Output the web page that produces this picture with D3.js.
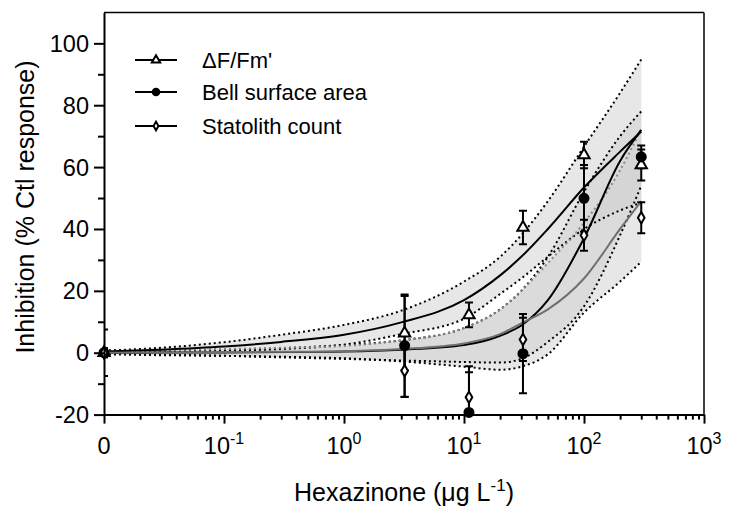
<!DOCTYPE html>
<meta charset="utf-8">
<style>
body { margin: 0; background: #fff; }
text { font-family: "Liberation Sans", Arial, sans-serif; fill: #000; }
</style>
<script src="https://d3js.org/d3.v7.min.js"></script>
<svg width="729" height="511"></svg>
<script>
const svg = d3.select('svg');

// concentrations (control "0" sits at the 0.01 position of the log axis)
const conc = [0.01, 3.2, 11, 31, 100, 300];
const fvfmMean = [0, 6.3, 12.2, 40.5, 63.9, 60.7];
const fvfmErr  = [1.5, 12, 4, 5.4, 4.3, 5];
const bellMean = [0, 2.3, -19.3, -0.3, 49.9, 63.3];
const bellErr  = [7.5, 16.5, 13, 12.8, 10.8, 3.7];
const statMean = [0, -5.8, -14.4, 4.3, 38, 43.6];
const statErr  = [1.5, 8.5, 10, 7, 5, 5];

// fitted curves and 95% bands
const fitX      = [0.01, 0.03, 0.1, 0.3, 1, 3, 10, 20, 30, 50, 100, 200, 300];
const fvfmFit   = [0.4, 1.0, 2.0, 3.5, 5.8, 9.8, 17, 25, 31, 40, 53.4, 65, 71.5];
const fvfmUp    = [0.7, 1.6, 3.4, 5.8, 9, 13.6, 23, 31, 38, 49, 66.6, 84, 94.8];
const fvfmLo    = [0.1, 0.4, 0.6, 1.2, 2.6, 6, 11, 19, 24, 31, 40, 46, 48.5];
const bellFit   = [0, 0.05, 0.1, 0.2, 0.4, 1.0, 2.5, 5.5, 8.8, 17, 37, 62, 72];
const bellUp    = [0.3, 0.6, 1, 1.5, 2.5, 4, 8, 14, 20, 31, 52, 70, 78];
const bellLo    = [-0.3, -0.6, -1, -1.5, -2, -2.5, -3, -3.2, -2, 3.5, 15, 38, 54];
const statFit   = [0, 0.1, 0.2, 0.3, 0.5, 1.2, 3, 6, 9.5, 14, 24, 40, 49];
const statUp    = [0.5, 0.8, 1.2, 1.6, 2.2, 4, 8, 14, 20, 29, 42, 59, 72.5];
const statLo    = [-0.5, -0.8, -1, -1.3, -1.8, -2.8, -4.5, -5.5, -4.5, -0.5, 13, 23, 29.4];

const xMajor = [0.01, 0.1, 1, 10, 100, 1000];
const xMajorLabels = [['0', ''], ['10', '-1'], ['10', '0'], ['10', '1'], ['10', '2'], ['10', '3']];
const yMajor = [-20, 0, 20, 40, 60, 80, 100];
const yMinor = [-10, 10, 30, 50, 70, 90];
const legendLabels = ["\u0394F/Fm'", 'Bell surface area', 'Statolith count'];

const x = d3.scaleLog().domain([0.01, 1000]).range([104, 704]);
const y = d3.scaleLinear().domain([-20, 110]).range([414.6, 12.4]);

const xMinor = [];
for (let e = -2; e < 3; e++) for (let k = 2; k <= 9; k++) xMinor.push(k * Math.pow(10, e));

svg.append('defs').append('clipPath').attr('id', 'plot')
  .append('rect').attr('x', 104).attr('y', 12.4).attr('width', 600).attr('height', 402.2);

const g = svg.append('g');

// bands
const bands = [
  { lo: fvfmLo, up: fvfmUp, dotLo: '#000', dotUp: '#000' },
  { lo: bellLo, up: bellUp, dotLo: '#000', dotUp: '#000' },
  { lo: statLo, up: statUp, dotLo: '#000', dotUp: '#888' }
];
const area = d3.area().x(d => x(d[0])).y0(d => y(d[1])).y1(d => y(d[2])).curve(d3.curveMonotoneX);
const line = d3.line().x(d => x(d[0])).y(d => y(d[1])).curve(d3.curveMonotoneX);

bands.forEach(b => {
  g.append('path')
    .attr('d', area(fitX.map((v, i) => [v, b.lo[i], b.up[i]])))
    .attr('fill', '#d0d0d0').attr('fill-opacity', 0.5);
});
bands.forEach(b => {
  [[b.lo, b.dotLo], [b.up, b.dotUp]].forEach(([arr, col]) => {
    g.append('path')
      .attr('d', line(fitX.map((v, i) => [v, arr[i]])))
      .attr('fill', 'none').attr('stroke', col).attr('stroke-width', 2)
      .attr('stroke-dasharray', '2,3');
  });
});

// fitted curves
[[fvfmFit, '#000'], [bellFit, '#000'], [statFit, '#707070']].forEach(([arr, col]) => {
  g.append('path')
    .attr('d', line(fitX.map((v, i) => [v, arr[i]])))
    .attr('fill', 'none').attr('stroke', col).attr('stroke-width', 2);
});

// error bars and markers
const series = [
  { mean: fvfmMean, err: fvfmErr, sym: d3.symbolTriangle, size: 55, fill: '#fff' },
  { mean: bellMean, err: bellErr, sym: d3.symbolCircle, size: 64, fill: '#000' },
  { mean: statMean, err: statErr, sym: d3.symbolDiamond, size: 38, fill: '#fff' }
];

const eb = g.append('g').attr('clip-path', 'url(#plot)');
series.forEach(s => {
  conc.forEach((c, i) => {
    const cx = x(c), top = y(s.mean[i] + s.err[i]), bot = y(s.mean[i] - s.err[i]);
    eb.append('line').attr('x1', cx).attr('x2', cx).attr('y1', top).attr('y2', bot)
      .attr('stroke', '#000').attr('stroke-width', 2);
    [top, bot].forEach(yy => eb.append('line')
      .attr('x1', cx - 4).attr('x2', cx + 4).attr('y1', yy).attr('y2', yy)
      .attr('stroke', '#000').attr('stroke-width', 2));
  });
});
series.forEach(s => {
  conc.forEach((c, i) => {
    g.append('path')
      .attr('d', d3.symbol(s.sym, s.size)())
      .attr('transform', `translate(${x(c)},${y(s.mean[i])})`)
      .attr('fill', s.fill).attr('stroke', '#000').attr('stroke-width', 2);
  });
});

// frame
svg.append('line').attr('x1', 104).attr('x2', 704).attr('y1', 12.4).attr('y2', 12.4)
  .attr('stroke', '#000').attr('stroke-width', 1.5);
svg.append('line').attr('x1', 704).attr('x2', 704).attr('y1', 12.4).attr('y2', 414.6)
  .attr('stroke', '#000').attr('stroke-width', 1.5);

// axes
const xAxis = svg.append('g').attr('transform', 'translate(0,414.6)');
xAxis.call(d3.axisBottom(x).tickValues(xMajor).tickSize(9).tickSizeOuter(0).tickFormat(''));
xAxis.append('g').call(d3.axisBottom(x).tickValues(xMinor).tickSize(5).tickSizeOuter(0).tickFormat(''))
  .select('.domain').remove();
const yAxis = svg.append('g').attr('transform', 'translate(104,0)');
yAxis.call(d3.axisLeft(y).tickValues(yMajor).tickSize(10).tickSizeOuter(0).tickFormat(''));
yAxis.append('g').call(d3.axisLeft(y).tickValues(yMinor).tickSize(6).tickSizeOuter(0).tickFormat(''))
  .select('.domain').remove();
svg.selectAll('.domain, .tick line').attr('stroke', '#000').attr('stroke-width', 2);

yMajor.forEach(v => {
  svg.append('text').attr('x', 89).attr('y', y(v) + 8.5)
    .attr('text-anchor', 'end').attr('font-size', 23.5).text(v);
});
xMajor.forEach((v, i) => {
  const t = svg.append('text').attr('x', x(v)).attr('y', 454)
    .attr('text-anchor', 'middle').attr('font-size', 23.5);
  t.append('tspan').text(xMajorLabels[i][0]);
  if (xMajorLabels[i][1]) t.append('tspan').attr('dy', -10).attr('font-size', 16).text(xMajorLabels[i][1]);
});

// axis titles
const xt = svg.append('text').attr('x', 404).attr('y', 501)
  .attr('text-anchor', 'middle').attr('font-size', 25);
xt.append('tspan').text('Hexazinone (\u03bcg L');
xt.append('tspan').attr('dy', -10).attr('font-size', 17).text('-1');
xt.append('tspan').attr('dy', 10).text(')');

svg.append('text').attr('transform', 'translate(34,207) rotate(-90)')
  .attr('text-anchor', 'middle').attr('font-size', 25).text('Inhibition (% Ctl response)');

// legend
const legY = [60, 92, 126];
series.forEach((s, i) => {
  svg.append('line').attr('x1', 135).attr('x2', 177).attr('y1', legY[i]).attr('y2', legY[i])
    .attr('stroke', '#000').attr('stroke-width', 2);
  svg.append('path').attr('d', d3.symbol(s.sym, s.size * 0.55)())
    .attr('transform', `translate(156,${legY[i]})`)
    .attr('fill', s.fill).attr('stroke', '#000').attr('stroke-width', 2);
  svg.append('text').attr('x', 202).attr('y', legY[i] + 8).attr('font-size', 22).text(legendLabels[i]);
});
</script>
